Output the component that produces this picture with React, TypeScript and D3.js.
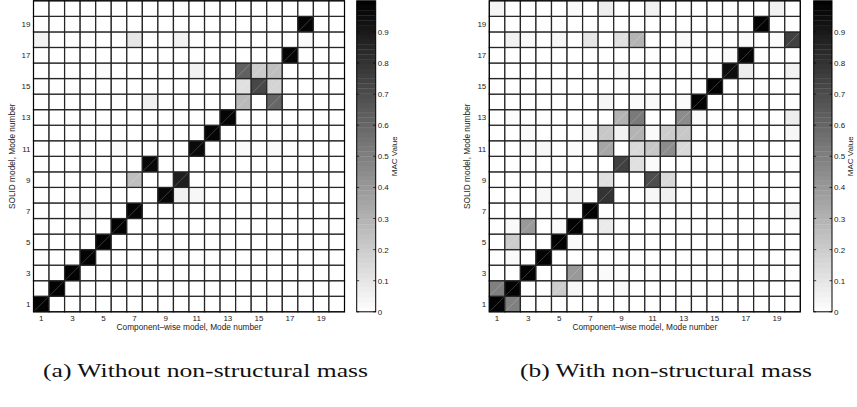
import React from 'react';
import * as d3 from 'd3';

// Mode numbers 1..20 on both axes
const modes = d3.range(1, 21);
const tickModes = [1, 3, 5, 7, 9, 11, 13, 15, 17, 19];
const cbTicks = [0, 0.1, 0.2, 0.3, 0.4, 0.5, 0.6, 0.7, 0.8, 0.9];

// MAC entries [component-wise mode, SOLID mode, value]; all other cells are 0
const macWithout: [number, number, number][] = [
  [1, 1, 0.99], [2, 2, 0.99], [3, 3, 0.99], [4, 4, 0.99], [5, 5, 0.99], [6, 6, 0.99],
  [7, 7, 0.98], [4, 7, 0.03],
  [9, 8, 0.97], [10, 8, 0.05], [11, 8, 0.03],
  [10, 9, 0.88], [7, 9, 0.25],
  [8, 10, 0.97],
  [11, 11, 0.96], [6, 11, 0.02], [14, 11, 0.02], [16, 11, 0.02],
  [12, 12, 0.98],
  [13, 13, 0.98],
  [14, 14, 0.27], [16, 14, 0.6], [8, 14, 0.06],
  [14, 15, 0.12], [15, 15, 0.72], [16, 15, 0.17],
  [14, 16, 0.62], [15, 16, 0.2], [16, 16, 0.25], [5, 16, 0.02], [11, 16, 0.05],
  [17, 17, 0.98],
  [1, 18, 0.05], [7, 18, 0.1], [10, 18, 0.05], [18, 18, 0.02],
  [18, 19, 0.98],
];

const macWith: [number, number, number][] = [
  [1, 1, 0.99], [2, 1, 0.5],
  [1, 2, 0.5], [2, 2, 0.99], [5, 2, 0.2], [6, 2, 0.03], [9, 2, 0.02],
  [3, 3, 0.99], [6, 3, 0.4], [8, 3, 0.02],
  [4, 4, 0.99], [2, 4, 0.02],
  [5, 5, 0.99], [2, 5, 0.2], [6, 5, 0.02],
  [6, 6, 0.99], [3, 6, 0.4], [2, 6, 0.02], [5, 6, 0.02], [8, 6, 0.08],
  [7, 7, 0.99], [20, 7, 0.03],
  [8, 8, 0.8], [4, 8, 0.03], [6, 8, 0.05], [11, 8, 0.03], [12, 8, 0.06],
  [8, 9, 0.12], [11, 9, 0.7], [12, 9, 0.15],
  [9, 10, 0.75], [10, 10, 0.12], [11, 10, 0.02],
  [8, 11, 0.35], [10, 11, 0.15], [11, 11, 0.22], [12, 11, 0.45], [13, 11, 0.15],
  [3, 11, 0.02], [4, 11, 0.03], [6, 11, 0.02],
  [8, 12, 0.22], [9, 12, 0.05], [10, 12, 0.3], [11, 12, 0.02], [12, 12, 0.2],
  [13, 12, 0.22], [3, 12, 0.02], [7, 12, 0.03], [20, 12, 0.03],
  [9, 13, 0.3], [10, 13, 0.52], [13, 13, 0.45], [14, 13, 0.02], [2, 13, 0.01], [20, 13, 0.07],
  [8, 14, 0.04], [10, 14, 0.02], [11, 14, 0.02], [13, 14, 0.02], [14, 14, 0.99],
  [15, 15, 0.99],
  [9, 16, 0.02], [16, 16, 0.95], [17, 16, 0.07], [20, 16, 0.05],
  [16, 17, 0.02], [17, 17, 0.98],
  [2, 18, 0.05], [3, 18, 0.02], [5, 18, 0.03], [7, 18, 0.1], [9, 18, 0.12],
  [10, 18, 0.3], [13, 18, 0.02], [17, 18, 0.02], [19, 18, 0.02], [20, 18, 0.75],
  [18, 19, 0.99],
  [1, 20, 0.04], [6, 20, 0.02], [8, 20, 0.07], [11, 20, 0.05], [19, 20, 0.05],
];

const captions = ['(a) Without non-structural mass', '(b) With non-structural mass'];

const W = 857;
const H = 407;
const top = 0.8;
const bottom = 311.8;
const gridW = 311;
const font = 'Liberation Sans, Arial, Helvetica, sans-serif';

const color = d3.scaleLinear<string>().domain([0, 1]).range(['#ffffff', '#000000']);

interface PanelProps {
  data: [number, number, number][];
  x0: number;
  cbX: number;
  cbW: number;
  caption: string;
  capX: number;
  capW: number;
}

const Panel: React.FC<PanelProps> = ({ data, x0, cbX, cbW, caption, capX, capW }) => {
  const xs = d3.scaleBand<number>().domain(modes).range([x0, x0 + gridW]);
  const ys = d3.scaleBand<number>().domain(modes).range([bottom, top]);
  const cb = d3.scaleLinear().domain([0, 1]).range([bottom, top]);
  const bw = xs.bandwidth();
  const bh = ys.bandwidth();

  const lookup = new Map<string, number>();
  data.forEach(([c, r, v]) => lookup.set(`${c}-${r}`, v));

  const levels = d3.range(64);

  return (
    <g>
      {modes.map((r) =>
        modes.map((c) => {
          const v = lookup.get(`${c}-${r}`) || 0;
          const x = xs(c)!;
          const y = ys(r)!;
          return (
            <g key={`${c}-${r}`}>
              <rect x={x} y={y} width={bw} height={bh} fill={color(v)}
                stroke="#262626" strokeWidth={1.25} />
              {v > 0.05 && (
                <line x1={x + 1} y1={y + bh - 1} x2={x + bw - 1} y2={y + 1}
                  stroke="#fff" strokeOpacity={0.35} strokeWidth={0.6} />
              )}
            </g>
          );
        })
      )}
      <rect x={x0} y={top} width={gridW} height={bottom - top} fill="none" stroke="#000" strokeWidth={1} />
      {tickModes.map((m) => (
        <text key={`x${m}`} x={xs(m)! + bw / 2} y={321} fontSize={8} fontFamily={font}
          textAnchor="middle" fill="#222">{m}</text>
      ))}
      {tickModes.map((m) => (
        <text key={`y${m}`} x={x0 - 3} y={ys(m)! + bh / 2 + 3} fontSize={8} fontFamily={font}
          textAnchor="end" fill="#222">{m}</text>
      ))}
      <text x={x0 + gridW / 2} y={330} fontSize={8.3} fontFamily={font} textAnchor="middle" fill="#222">
        Component–wise model, Mode number
      </text>
      <text transform={`translate(${x0 - 19},${(top + bottom) / 2}) rotate(-90)`} fontSize={8.3}
        fontFamily={font} textAnchor="middle" fill="#222">
        SOLID model, Mode number
      </text>
      {/* colorbar */}
      {levels.map((i) => (
        <rect key={`cb${i}`} x={cbX} y={cb((i + 1) / 64)} width={cbW}
          height={cb(i / 64) - cb((i + 1) / 64) + 0.3} fill={color((i + 0.5) / 64)} />
      ))}
      <rect x={cbX} y={top} width={cbW} height={bottom - top} fill="none" stroke="#000" strokeWidth={1} />
      {cbTicks.map((t) => (
        <g key={`t${t}`}>
          <line x1={cbX} x2={cbX + 2.5} y1={cb(t)} y2={cb(t)} stroke="#000" strokeWidth={0.7} />
          <line x1={cbX + cbW - 2.5} x2={cbX + cbW} y1={cb(t)} y2={cb(t)} stroke="#000" strokeWidth={0.7} />
          <text x={cbX + cbW + 2} y={cb(t) + 3} fontSize={8} fontFamily={font} fill="#222">{t}</text>
        </g>
      ))}
      <text transform={`translate(${cbX + cbW + 21},${(top + bottom) / 2}) rotate(-90)`} fontSize={8}
        fontFamily={font} textAnchor="middle" fill="#222">MAC Value</text>
      <text x={capX} y={377} fontSize={18} fontFamily="Liberation Serif, Times New Roman, serif"
        textLength={capW} lengthAdjust="spacingAndGlyphs" fill="#111">{caption}</text>
    </g>
  );
};

export default function App() {
  return (
    <svg width={W} height={H} style={{ position: 'absolute', left: 0, top: 0, background: '#fff' }}>
      <rect width={W} height={H} fill="#fff" />
      <Panel data={macWithout} x0={33.5} cbX={356.7} cbW={19} caption={captions[0]} capX={43} capW={325} />
      <Panel data={macWith} x0={489.3} cbX={813.7} cbW={18.3} caption={captions[1]} capX={520} capW={292} />
    </svg>
  );
}
